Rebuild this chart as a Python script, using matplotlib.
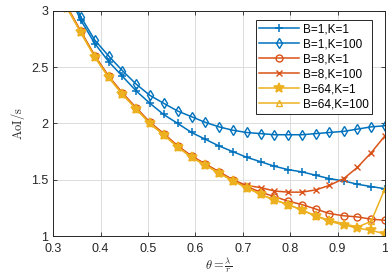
import matplotlib.pyplot as plt

# theta = lambda / r
theta = [0.300, 0.329, 0.358, 0.388, 0.417, 0.446, 0.475, 0.504, 0.533, 0.563,
         0.592, 0.621, 0.650, 0.679, 0.708, 0.738, 0.767, 0.796, 0.825, 0.854,
         0.883, 0.913, 0.942, 0.971, 1.000]

aoi_b1_k1 = [3.55, 3.18, 2.92, 2.71, 2.55, 2.42, 2.29, 2.18, 2.08, 2.00,
             1.92, 1.86, 1.80, 1.75, 1.70, 1.66, 1.62, 1.59, 1.57, 1.54,
             1.51, 1.49, 1.46, 1.44, 1.42]
aoi_b1_k100 = [3.60, 3.22, 2.95, 2.74, 2.60, 2.47, 2.35, 2.25, 2.18, 2.11,
               2.06, 2.01, 1.97, 1.94, 1.92, 1.91, 1.90, 1.90, 1.90, 1.91,
               1.92, 1.93, 1.95, 1.97, 1.98]
aoi_b8_k1 = [3.36, 3.04, 2.82, 2.60, 2.42, 2.27, 2.14, 2.01, 1.91, 1.80,
             1.71, 1.64, 1.57, 1.50, 1.44, 1.39, 1.35, 1.31, 1.28, 1.24,
             1.20, 1.18, 1.17, 1.15, 1.14]
aoi_b8_k100 = [3.36, 3.04, 2.82, 2.60, 2.42, 2.27, 2.14, 2.01, 1.91, 1.80,
               1.71, 1.64, 1.57, 1.50, 1.45, 1.43, 1.40, 1.39, 1.39, 1.41,
               1.45, 1.51, 1.61, 1.74, 1.89]
aoi_b64_k1 = [3.35, 3.03, 2.81, 2.59, 2.41, 2.26, 2.13, 2.00, 1.90, 1.79,
              1.70, 1.63, 1.56, 1.49, 1.43, 1.37, 1.32, 1.28, 1.23, 1.18,
              1.13, 1.10, 1.07, 1.05, 1.02]
aoi_b64_k100 = [3.35, 3.03, 2.81, 2.59, 2.41, 2.26, 2.13, 2.00, 1.90, 1.79,
                1.70, 1.63, 1.56, 1.49, 1.43, 1.37, 1.32, 1.28, 1.23, 1.18,
                1.14, 1.11, 1.08, 1.13, 1.42]

labels = ["B=1,K=1", "B=1,K=100", "B=8,K=1", "B=8,K=100", "B=64,K=1", "B=64,K=100"]

blue = "#0072BD"
orange = "#D95319"
yellow = "#EDB120"

plt.rcParams['font.family'] = ['Liberation Sans', 'DejaVu Sans']
plt.rcParams['mathtext.fontset'] = 'cm'

fig = plt.figure(figsize=(3.88, 2.80), dpi=100)
ax = fig.add_axes([0.137, 0.157, 0.855, 0.804])

lw = 1.1
ms = 5
ax.plot(theta, aoi_b1_k1, color=blue, marker='+', lw=lw, ms=ms + 1, mew=1.1, label=labels[0])
ax.plot(theta, aoi_b1_k100, color=blue, marker='d', lw=lw, ms=ms, mfc='none', mew=1.0, label=labels[1])
ax.plot(theta, aoi_b8_k1, color=orange, marker='o', lw=lw, ms=ms, mfc='none', mew=1.0, label=labels[2])
ax.plot(theta, aoi_b8_k100, color=orange, marker='x', lw=lw, ms=ms - 1, mew=1.0, label=labels[3])
ax.plot(theta, aoi_b64_k1, color=yellow, marker='*', lw=lw, ms=ms + 2, mew=1.2, label=labels[4])
ax.plot(theta, aoi_b64_k100, color=yellow, marker='^', lw=lw, ms=ms, mfc='none', mew=1.0, label=labels[5])

ax.set_xlim(0.3, 1.0)
ax.set_ylim(1, 3)
ax.set_xticks([0.3, 0.4, 0.5, 0.6, 0.7, 0.8, 0.9, 1.0])
ax.set_xticklabels(["0.3", "0.4", "0.5", "0.6", "0.7", "0.8", "0.9", "1"])
ax.set_yticks([1, 1.5, 2, 2.5, 3])
ax.set_yticklabels(["1", "1.5", "2", "2.5", "3"])
ax.grid(True, color='#dcdcdc', lw=0.7)
ax.set_axisbelow(True)
ax.tick_params(direction='in', top=True, right=True, labelsize=9, colors='#262626', length=3, width=0.6)
ax.tick_params(axis='x', pad=5)
for s in ax.spines.values():
    s.set_color('#262626')
    s.set_linewidth(0.7)

ax.set_xlabel(r'$\theta = \frac{\lambda}{r}$', fontsize=9, color='#262626', labelpad=0)
ax.set_ylabel(r'$\mathrm{AoI/s}$', fontsize=9, color='#262626', labelpad=3)

leg = ax.legend(loc='upper right', bbox_to_anchor=(0.962, 0.96), borderaxespad=0, fontsize=8.5,
                handlelength=3.4, labelspacing=0.25, borderpad=0.3, handletextpad=0.3,
                fancybox=False, framealpha=1, edgecolor='#262626')
leg.get_frame().set_linewidth(0.7)

fig.savefig("out.png", dpi=100)
